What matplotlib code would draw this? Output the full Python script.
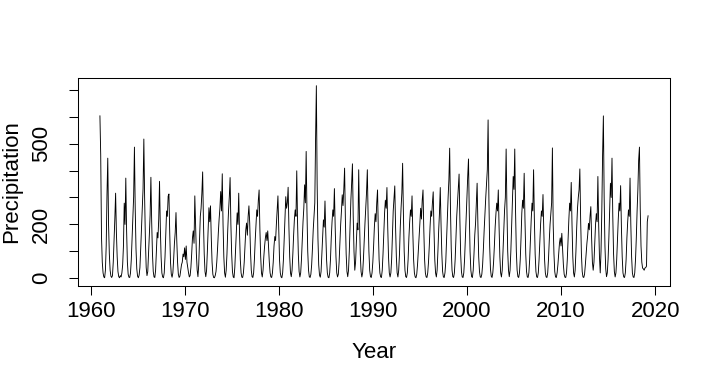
import numpy as np
import matplotlib
matplotlib.use("Agg")
import matplotlib.pyplot as plt

# monthly precipitation, Jan 1961 - Apr 2019
p1961 = [603, 458, 155, 60, 20,
         5, 2, 30, 120, 310, 446, 200, 90, 30, 8, 3,
         10, 60, 140, 220, 316, 170, 80, 25, 6, 2, 10, 5,
         20, 50, 120, 279, 200, 372, 180, 60, 15, 4,
         3, 20, 70, 150, 240, 303, 487, 260, 110, 35, 8, 2, 12,
         40, 110, 190, 260, 332, 517, 300, 140, 40, 10,
         25, 90, 160, 235, 375, 210, 90, 25, 5, 3,
         30, 100, 170, 150, 220, 360, 190, 80, 20, 5, 2,
         20, 80, 160, 250, 230, 305, 313, 170, 60, 15, 4,
         20, 70, 130, 170, 244, 140, 60, 15, 3, 8,
         30, 50, 60, 90, 80, 113, 70, 120, 60, 40, 20, 5, 10,
         40, 90, 150, 176]
p1971 = [130, 306, 190, 90, 30, 6,
         50, 140, 230, 260, 316, 395, 210, 90, 25, 6,
         30, 100, 180, 262, 210, 269, 150, 60, 15, 3, 2,
         10, 25, 60, 110, 170, 220, 260, 322, 250, 388, 200, 80, 20, 4,
         30, 90, 180, 250, 303, 374, 200, 90, 25, 5,
         2, 40, 110, 180, 243, 200, 316, 170, 70, 20, 4,
         3, 20, 60, 120, 180, 205, 160, 230, 269, 205, 100, 30, 6,
         3, 20, 70, 140, 200, 254, 230, 290, 328, 180, 80, 20, 5,
         30, 80, 120, 150, 170, 140, 176, 120, 60, 20, 5,
         3, 20, 60, 120, 155, 140, 200, 250, 306, 180, 70, 20, 5,
         2, 20, 70, 150, 220, 303, 260, 280]
p1981 = [338, 190, 80, 20, 6,
         30, 90, 160, 220, 254, 230, 399, 210, 90, 25, 5,
         20, 70, 140, 210, 260, 347, 280, 471, 250, 100, 30, 6, 3,
         15, 50, 110, 180, 230, 280, 518, 715, 350, 150, 50, 12, 4,
         25, 90, 160, 217, 190, 287, 170, 70, 20, 4, 2,
         20, 70, 150, 210, 254, 230, 333, 190, 80, 20, 5,
         15, 60, 130, 200, 250, 310, 270, 330, 409, 220, 90, 25, 6,
         30, 100, 200, 290, 353, 425, 230, 100, 30,
         60, 130, 205, 180, 403, 220, 90, 25, 5,
         20, 70, 140, 205, 260, 320, 403, 230, 100, 30, 6,
         3, 20, 60, 120, 192, 240, 210, 280, 328, 180, 70, 20, 5,
         3]
p1991 = [30, 90, 170, 243, 290, 260, 337, 190, 80, 20, 5,
         20, 70, 155, 250, 300, 343, 190, 80, 20, 5,
         30, 90, 190, 260, 316, 427, 240, 100, 30, 6,
         3, 20, 70, 150, 210, 254, 230, 306, 170, 70, 20, 5,
         2, 15, 50, 100, 150, 204, 260, 220, 290, 328, 180, 70, 20, 5,
         3, 20, 60, 120, 192, 250, 230, 280, 321, 180, 70, 20, 5,
         30, 100, 180, 243, 337, 200, 90, 25, 5, 3,
         20, 60, 140, 230, 300, 365, 483, 260, 110, 30, 6,
         3, 20, 70, 150, 230, 280, 328, 387, 220, 90, 25, 5,
         3, 20, 70, 150, 240, 300, 378, 443, 240, 100, 30, 6,
         3, 30, 90, 160, 204]
p2001 = [280, 353, 200, 80, 25, 5,
         3, 15, 50, 110, 180, 240, 300, 350, 403, 588, 300, 120, 35, 8,
         3, 20, 60, 120, 190, 240, 279, 250, 328, 190, 80, 20, 5,
         30, 100, 180, 254, 300, 480, 260, 100, 30, 6,
         30, 100, 190, 270, 378, 330, 480, 250, 100, 30, 6,
         3, 20, 70, 150, 243, 290, 260, 390, 220, 90, 25, 5,
         3, 20, 70, 150, 220, 279, 250, 403, 220, 90, 25, 5,
         3, 20, 70, 140, 204, 250, 230, 311, 180, 70, 20, 5,
         3, 20, 70, 140, 200, 240, 280, 484, 200, 90, 25, 5,
         3, 20, 50, 90, 130, 150, 120, 167, 110, 50, 15, 4,
         3, 20, 70, 150, 220, 279]
p2011 = [250, 356, 200, 80, 20, 5,
         30, 100, 190, 260, 300, 328, 406, 220, 90, 25, 5,
         3, 15, 50, 90, 130, 160, 204, 180, 230, 266, 150, 60,
         30, 60, 130, 200, 240, 210, 378, 200, 80, 20,
         100, 250, 458, 603, 300, 120, 35, 6,
         20, 70, 150, 250, 353, 300, 446, 230, 90, 25, 5,
         20, 70, 150, 220, 279, 250, 344, 190, 80, 20, 5,
         3, 20, 70, 150, 210, 254, 230, 372, 200, 80, 20, 5,
         3, 20, 70, 150, 250, 330, 440, 487, 260, 120, 60, 38,
         35, 30, 38, 40, 45, 210, 232]

precip = np.array(p1961 + p1971 + p1981 + p1991 + p2001 + p2011, dtype=float)
years = 1961 + np.arange(len(precip)) / 12

x_ticks = [1960, 1970, 1980, 1990, 2000, 2010, 2020]
y_ticks = [0, 100, 200, 300, 400, 500, 600, 700]
y_labels = ["0", "", "200", "", "", "500", "", ""]

plt.rcParams["font.family"] = ["Liberation Sans", "DejaVu Sans"]

fig = plt.figure(figsize=(7.11, 3.84), dpi=100)
ax = fig.add_axes([78 / 711, 1 - 286 / 384, 592 / 711, 208 / 384])

ax.plot(years, precip, color="black", linewidth=0.65)

# R style 4% padding on each side
xr = years.max() - years.min()
ax.set_xlim(years.min() - 0.04 * xr, years.max() + 0.04 * xr)
yr = precip.max() - 0
ax.set_ylim(0 - 0.04 * yr, precip.max() + 0.04 * yr)

ax.set_xticks(x_ticks)
ax.set_yticks(y_ticks)
ax.set_yticklabels(y_labels, rotation=90, va="center")

ax.tick_params(axis="both", direction="out", length=6.5, width=0.75,
               labelsize=16, color="black")
ax.tick_params(axis="x", pad=4)
ax.tick_params(axis="y", pad=12)
for s in ax.spines.values():
    s.set_linewidth(0.75)

ax.set_xlabel("Year", fontsize=16)
ax.set_ylabel("Precipitation", fontsize=16)
ax.xaxis.set_label_coords(0.5, -0.27)
ax.yaxis.set_label_coords(-0.095, 0.5)

fig.savefig("out.png", dpi=100)
